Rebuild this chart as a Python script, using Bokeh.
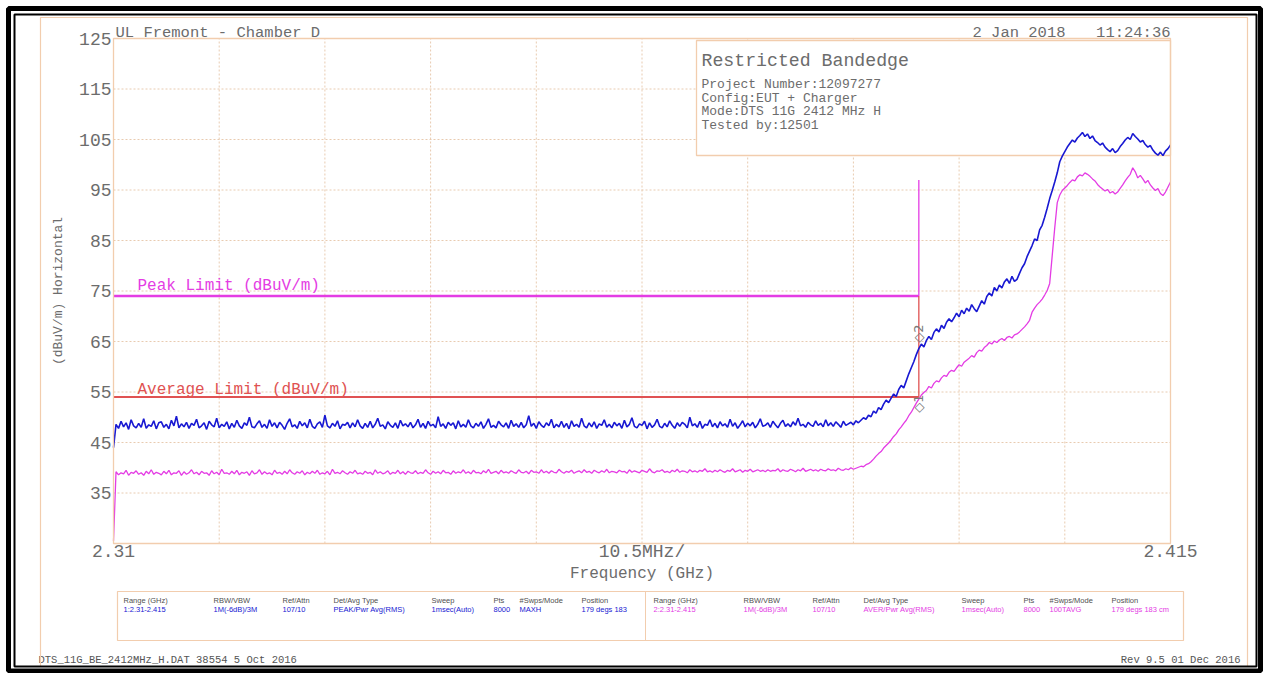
import numpy as np
from bokeh.plotting import figure
from bokeh.models import Range1d, FixedTicker, Label, BoxAnnotation, LinearAxis
from bokeh.core.properties import value
from bokeh.embed import file_html
from bokeh.resources import INLINE

# ---------------- data ----------------
F_START, F_STOP = 2.31, 2.415          # GHz sweep range
Y_MIN, Y_MAX = 25, 125                 # dBuV/m

PEAK_TRACE = [
    44.0, 48.6, 47.8, 49.2, 48.1, 48.9, 47.6, 49.5, 48.3, 47.9, 48.8, 48.0, 49.7, 47.8, 48.5, 48.2, 49.3, 47.7, 48.9, 49.1,
    48.0, 48.6, 47.7, 49.4, 48.3, 50.2, 47.9, 48.7, 48.1, 49.0, 47.8, 48.8, 48.4, 49.6, 47.9, 48.3, 48.9, 47.6, 49.2, 48.5,
    48.1, 49.8, 47.9, 48.6, 48.2, 49.1, 47.7, 48.8, 48.0, 49.4, 48.3, 47.8, 48.9, 48.4, 50.0, 48.1, 47.9, 48.7, 49.3, 48.0,
    48.6, 47.8, 49.5, 48.2, 48.9, 47.9, 49.0, 48.4, 47.6, 48.8, 49.7, 48.1, 48.5, 47.8, 49.2, 48.3, 48.9, 47.9, 49.6, 48.2,
    47.8, 48.7, 49.1, 48.0, 50.4, 48.3, 47.9, 48.8, 48.2, 49.3, 47.7, 48.6, 48.4, 49.0, 47.9, 48.9, 48.1, 49.5, 48.3, 47.8,
    48.8, 48.0, 49.2, 47.9, 48.6, 49.8, 48.2, 48.5, 47.7, 49.1, 48.4, 48.0, 48.9, 47.8, 49.4, 48.3, 48.7, 48.1, 49.0, 47.9,
    48.5, 49.6, 48.0, 48.8, 47.8, 49.2, 48.3, 48.6, 47.9, 50.1, 48.2, 48.7, 47.8, 49.0, 48.4, 48.9, 47.7, 49.3, 48.1, 48.6,
    48.0, 49.5, 48.3, 47.9, 48.8, 48.2, 49.1, 47.8, 48.6, 49.7, 48.0, 48.4, 47.9, 49.2, 48.5, 48.1, 48.9, 47.8, 49.4, 48.2,
    48.7, 48.0, 49.0, 47.9, 48.5, 50.3, 48.2, 48.8, 47.8, 49.1, 48.4, 48.0, 48.9, 48.3, 49.6, 47.9, 48.6, 48.1, 49.2, 48.0,
    48.8, 47.7, 49.3, 48.2, 48.6, 48.0, 49.8, 48.3, 47.9, 48.9, 48.1, 49.1, 47.8, 48.7, 48.4, 49.5, 48.0, 48.6, 47.9, 49.0,
    48.3, 48.8, 47.8, 49.4, 48.1, 48.6, 49.9, 48.2, 47.9, 48.7, 48.4, 49.2, 47.7, 48.9, 48.0, 48.5, 49.6, 48.2, 47.9, 48.8,
    48.1, 49.3, 48.4, 47.8, 48.9, 48.2, 49.0, 48.6, 47.9, 50.0, 48.3, 48.7, 48.0, 49.2, 47.8, 48.6, 48.4, 49.5, 48.1, 48.8,
    47.9, 49.1, 48.3, 48.7, 48.0, 49.6, 48.2, 48.9, 47.8, 48.5, 49.3, 48.1, 48.8, 48.3, 49.0, 47.9, 48.6, 49.7, 48.2, 48.4,
    48.9, 48.0, 49.2, 48.5, 47.9, 48.8, 49.4, 48.2, 48.7, 48.1, 49.1, 48.4, 49.8, 48.3, 48.6, 48.0, 49.0, 48.5, 48.2, 49.3,
    48.4, 48.8, 48.1, 49.5, 48.3, 48.9, 48.2, 49.1, 48.6, 48.0, 49.2, 48.4, 48.7, 49.0, 48.5, 49.3, 48.9, 49.4, 49.9, 49.6,
    50.4, 50.1, 51.2, 50.8, 51.9, 51.5, 52.6, 53.4, 52.9, 53.8, 54.6, 54.1, 55.5, 56.3, 55.8, 57.2, 58.6, 59.8, 61.0, 62.4,
    63.6, 64.5, 63.9, 65.2, 66.0, 65.4, 66.8, 67.5, 66.9, 68.2, 67.6, 68.8, 69.5, 68.9, 69.7, 70.6, 69.9, 71.2, 70.5, 71.6,
    71.0, 72.3, 71.5, 70.9, 72.0, 73.1, 72.4, 73.9, 74.6, 74.0, 75.7, 75.0, 76.2, 75.6, 76.8, 77.4, 76.5, 77.9, 76.9, 77.3,
    78.5, 79.6, 80.4, 81.8, 82.9, 84.0, 85.3, 85.0, 87.1, 88.0, 89.6, 91.4, 93.3, 94.9, 96.6, 98.4, 100.6, 101.7, 102.6, 103.5,
    104.2, 104.9, 104.5, 105.3, 105.8, 106.4, 105.6, 106.1, 105.2, 105.7, 104.8, 104.4, 103.9, 104.3, 103.5, 103.0, 102.6, 103.2, 102.4, 102.8,
    103.6, 104.2, 104.9, 105.4, 105.0, 106.2, 105.6, 105.1, 104.5, 104.8, 104.0, 103.5, 103.8, 102.9, 102.3, 101.9, 102.5, 101.8, 102.7, 103.2,
    103.9,
]

AVG_TRACE = [
    25.5, 39.2, 38.6, 39.0, 38.8, 39.5, 38.5, 39.1, 38.9, 39.4, 38.7, 39.0, 38.5, 39.3, 38.8, 39.6, 38.7, 39.1, 38.9, 38.6,
    39.3, 38.8, 39.5, 38.6, 39.0, 38.9, 39.4, 38.5, 39.2, 38.7, 39.0, 39.6, 38.8, 39.1, 38.6, 39.3, 38.9, 39.0, 38.5, 39.4,
    38.8, 39.1, 38.6, 39.7, 38.9, 39.0, 38.7, 39.3, 38.8, 39.5, 38.6, 39.1, 38.9, 39.2, 38.5, 39.4, 38.8, 39.0, 39.6, 38.7,
    39.2, 38.8, 39.0, 38.6, 39.5, 38.9, 39.1, 38.7, 39.3, 38.8, 39.6, 39.0, 38.7, 39.2, 38.9, 39.4, 38.6, 39.1, 38.8, 39.3,
    38.9, 39.5, 38.7, 39.0, 38.8, 39.3, 38.6, 39.7, 38.9, 39.1, 38.8, 39.4, 39.0, 38.7, 39.2, 38.9, 39.5, 38.8, 39.0, 38.7,
    39.3, 38.9, 39.1, 38.6, 39.6, 38.9, 39.2, 38.8, 39.0, 39.4, 38.7, 39.1, 38.9, 39.5, 38.8, 39.2, 38.7, 39.3, 39.0, 38.9,
    39.4, 38.8, 39.1, 38.9, 39.6, 39.0, 38.7, 39.3, 38.9, 39.2, 38.8, 39.5, 39.0, 39.1, 38.7, 39.4, 38.9, 39.2, 39.0, 39.6,
    38.9, 39.2, 38.8, 39.5, 39.0, 39.1, 38.8, 39.4, 39.0, 39.7, 38.9, 39.1, 39.3, 38.8, 39.5, 39.0, 39.2, 38.9, 39.4, 39.1,
    38.9, 39.6, 39.1, 39.0, 39.3, 38.8, 39.5, 39.1, 39.2, 38.9, 39.6, 39.0, 39.3, 38.9, 39.4, 39.1, 39.0, 39.7, 39.2, 38.9,
    39.3, 39.1, 39.5, 38.9, 39.2, 39.4, 39.0, 39.6, 39.1, 39.3, 38.9, 39.5, 39.2, 39.0, 39.4, 39.1, 39.7, 39.0, 39.3, 39.2,
    39.0, 39.5, 39.2, 39.3, 38.9, 39.6, 39.1, 39.4, 39.2, 39.0, 39.5, 39.3, 39.1, 39.8, 39.2, 39.0, 39.4, 39.3, 39.6, 39.1,
    39.3, 39.0, 39.5, 39.2, 39.7, 39.1, 39.4, 39.3, 39.0, 39.6, 39.2, 39.4, 39.1, 39.5, 39.3, 39.8, 39.2, 39.4, 39.1, 39.5,
    39.2, 39.6, 39.3, 39.1, 39.5, 39.3, 39.8, 39.2, 39.4, 39.6, 39.1, 39.5, 39.3, 39.7, 39.2, 39.4, 39.6, 39.3, 39.5, 39.2,
    39.6, 39.3, 39.5, 39.4, 39.8, 39.2, 39.6, 39.4, 39.3, 39.7, 39.5, 39.2, 39.6, 39.4, 39.9, 39.3, 39.5, 39.7, 39.4, 39.6,
    39.3, 39.7, 39.5, 39.4, 39.8, 39.5, 39.6, 39.4, 39.9, 39.6, 39.5, 39.8, 39.6, 40.0, 39.7, 39.9, 40.1, 40.3, 40.2, 40.6,
    40.8, 41.2, 41.7, 42.3, 42.8, 43.2, 43.9, 44.4, 44.9, 45.5, 46.2, 46.7, 47.5, 48.1, 48.8, 49.4, 50.3, 51.0, 51.9, 52.8,
    53.6, 54.4, 54.9, 55.3, 56.1, 55.8, 56.7, 57.2, 57.0, 57.8, 58.3, 58.1, 58.9, 59.3, 59.1, 59.8, 60.4, 60.1, 60.9, 61.3,
    61.7, 62.2, 61.9, 62.8, 63.3, 63.1, 63.8, 64.2, 64.8, 64.5, 65.1, 64.8, 65.3, 65.6, 65.2, 65.8, 66.0, 65.7, 66.3, 66.5,
    66.9, 67.4, 67.9, 68.5, 69.2, 70.8, 71.6, 72.3, 72.8, 73.4, 74.2, 75.1, 76.5, 82.0, 87.5, 92.5, 94.0, 94.9, 95.4, 95.9,
    96.5, 97.0, 96.8, 97.6, 98.0, 97.8, 98.4, 98.1, 97.7, 97.2, 96.8, 96.1, 95.6, 95.2, 94.8, 95.1, 94.4, 94.7, 94.2, 94.6,
    95.3, 96.0, 96.8, 97.5, 98.1, 99.4, 98.6, 97.4, 97.9, 97.2, 96.4, 96.9, 96.0, 95.4, 94.9, 95.3, 94.3, 93.9, 94.6, 95.6,
    96.6,
]
assert len(PEAK_TRACE) == len(AVG_TRACE) == 421

LIMIT_F = [2.31, 2.39]
PEAK_LIMIT = [74, 74]
AVG_LIMIT = [54, 54]
EDGE_F = [2.39, 2.39]
EDGE_PEAK = [74, 97]
EDGE_AVG = [54, 74]
MARKER_F = [2.39, 2.39]
MARKER_DB = [53.9, 63.8]
MARKER_TEXT = ["\u25C71", "\u25C72"]

Y_TICKS = [35, 45, 55, 65, 75, 85, 95, 105, 115, 125]
Y_GRID = [35, 45, 55, 65, 75, 85, 95, 105, 115]
X_TICKS = [2.31, 2.3625, 2.415]
X_TICK_LABELS = ["2.31", "10.5MHz/", "2.415"]
X_GRID = [2.3205, 2.331, 2.3415, 2.352, 2.3625, 2.373, 2.3835, 2.394, 2.4045]

TITLE = "UL Fremont - Chamber D"
DATE = "2 Jan 2018"
TIME = "11:24:36"
INFO_TITLE = "Restricted Bandedge"
INFO_LINES = ["Project Number:12097277", "Config:EUT + Charger",
              "Mode:DTS 11G 2412 MHz H", "Tested by:12501"]
TABLE_HEAD = ["Range (GHz)", "RBW/VBW", "Ref/Attn", "Det/Avg Type",
              "Sweep", "Pts", "#Swps/Mode", "Position"]
TABLE_ROW1 = ["1:2.31-2.415", "1M(-6dB)/3M", "107/10", "PEAK/Pwr Avg(RMS)",
              "1msec(Auto)", "8000", "MAXH", "179 degs 183"]
TABLE_ROW2 = ["2:2.31-2.415", "1M(-6dB)/3M", "107/10", "AVER/Pwr Avg(RMS)",
              "1msec(Auto)", "8000", "100TAVG", "179 degs 183 cm"]
FOOT_LEFT = "DTS_11G_BE_2412MHz_H.DAT 38554  5 Oct 2016"
FOOT_RIGHT = "Rev 9.5 01 Dec 2016"

# ---------------- layout (canvas pixels, y from top) ----------------
W, H = 1263, 673
PX_L, PX_R, PY_T, PY_B = 113, 1170, 38, 543    # plot area
MONO = "Liberation Mono"
GREY = "#6c6c6c"
TAN = "#f2cdae"
GRID_C = "#e8cbb0"
BLUE = "#1818d2"
MAGENTA = "#e43ce4"
RED = "#e05252"

S_X = (F_STOP - F_START) / (PX_R - PX_L)
S_Y = (Y_MAX - Y_MIN) / (PY_B - PY_T)


def fx(px):
    return F_START + (px - PX_L) * S_X


def fy(py):
    return Y_MAX - (py - PY_T) * S_Y


freq = np.linspace(F_START, F_STOP, len(PEAK_TRACE))

p = figure(width=W, height=H, output_backend="svg", toolbar_location=None,
           x_range=Range1d(fx(0), fx(W)), y_range=Range1d(fy(H), fy(0)),
           x_axis_type=None, y_axis_type=None,
           min_border=0, min_border_left=0, min_border_right=0,
           min_border_top=0, min_border_bottom=0)
p.background_fill_color = "white"
p.border_fill_color = "white"
p.outline_line_color = None

# axes drawn at the plot-area edges
yax = LinearAxis(fixed_location=F_START, bounds=(Y_MIN, Y_MAX),
                 ticker=FixedTicker(ticks=Y_TICKS), axis_label="(dBuV/m) Horizontal")
xax = LinearAxis(fixed_location=Y_MIN, bounds=(F_START, F_STOP),
                 ticker=FixedTicker(ticks=X_TICKS), axis_label="Frequency (GHz)")
xax.major_label_overrides = {t: s for t, s in zip(X_TICKS, X_TICK_LABELS)}
for ax in (xax, yax):
    ax.axis_line_color = None
    ax.major_tick_line_color = None
    ax.minor_tick_line_color = None
    ax.major_tick_out = 0
    ax.major_tick_in = 0
    ax.minor_tick_out = 0
    ax.major_label_text_font = MONO
    ax.major_label_text_color = GREY
    ax.major_label_text_font_size = "18px"
    ax.axis_label_text_font = MONO
    ax.axis_label_text_font_style = "normal"
    ax.axis_label_text_color = GREY
yax.major_label_standoff = 2
yax.axis_label_text_font_size = "13px"
yax.axis_label_standoff = 10
xax.major_label_standoff = -2
xax.axis_label_text_font_size = "16px"
xax.axis_label_standoff = 0
p.add_layout(yax, "left")
p.add_layout(xax, "below")

# grid lines (dotted, inside plot area only)
p.segment(x0=X_GRID, x1=X_GRID, y0=[Y_MIN] * len(X_GRID), y1=[Y_MAX] * len(X_GRID),
          line_color=GRID_C, line_dash="2 2", line_width=1)
p.segment(x0=[F_START] * len(Y_GRID), x1=[F_STOP] * len(Y_GRID), y0=Y_GRID, y1=Y_GRID,
          line_color=GRID_C, line_dash="2 2", line_width=1)

# info box (white, covers grid, under traces)
p.quad(left=fx(696), right=F_STOP, bottom=fy(155), top=fy(40),
       fill_color="white", line_color=TAN, line_width=1.3)

# limits
p.line(LIMIT_F, PEAK_LIMIT, line_color=MAGENTA, line_width=2.4)
p.line(LIMIT_F, AVG_LIMIT, line_color=RED, line_width=2)
p.line(EDGE_F, EDGE_PEAK, line_color=MAGENTA, line_width=1.3)
p.line(EDGE_F, EDGE_AVG, line_color=RED, line_width=1.3)

# traces
p.line(freq, AVG_TRACE, line_color=MAGENTA, line_width=1.3)
p.line(freq, PEAK_TRACE, line_color=BLUE, line_width=1.6)

# markers
p.text(MARKER_F, MARKER_DB, text=MARKER_TEXT, angle=np.pi / 2,
       y_offset=[6, -14], text_align="center", text_baseline="middle",
       text_font=value("DejaVu Sans"), text_font_size="13px", text_color="#7a7a7a")

# limit labels
p.add_layout(Label(x=fx(137), y=fy(285), text="Peak Limit (dBuV/m)",
                   text_font=MONO, text_font_size="16px", text_color=MAGENTA,
                   text_baseline="alphabetic"))
p.add_layout(Label(x=fx(137), y=fy(389), text="Average Limit (dBuV/m)",
                   text_font=MONO, text_font_size="16px", text_color=RED,
                   text_baseline="alphabetic"))


def clabel(x, y, text, size, color=GREY, align="left", font=MONO):
    p.add_layout(Label(x=x, y=y, x_units="canvas", y_units="canvas",
                       text=text, text_font=font, text_font_size=size,
                       text_color=color, text_align=align,
                       text_baseline="alphabetic"))


# header texts
clabel(115, 32, TITLE, "15.5px")
clabel(972, 32, DATE, "15.5px")
clabel(1170, 32, TIME, "15.5px", align="right")

# info box text
clabel(701, 60, INFO_TITLE, "18.2px")
for i, line in enumerate(INFO_LINES):
    clabel(701, 84 + 13.6 * i, line, "13px")

# table
HEAD_X = [123, 213, 282, 333, 431, 493, 519, 581]
HALF = 530
for hx, h, v1, v2 in zip(HEAD_X, TABLE_HEAD, TABLE_ROW1, TABLE_ROW2):
    clabel(hx, 600, h, "7.5px", color="#505050", font="Liberation Sans")
    clabel(hx, 609, v1, "7.5px", color=BLUE, font="Liberation Sans")
    clabel(hx + HALF, 600, h, "7.5px", color="#505050", font="Liberation Sans")
    clabel(hx + HALF, 609, v2, "7.5px", color=MAGENTA, font="Liberation Sans")

# footer
clabel(38, 659, FOOT_LEFT, "10.5px", color="#555555")
clabel(1240, 659, FOOT_RIGHT, "10.5px", color="#555555", align="right")


def cbox(l, r, t, b, color, width, fill=None):
    p.add_layout(BoxAnnotation(left=l, right=r, top=t, bottom=b,
                               left_units="canvas", right_units="canvas",
                               top_units="canvas", bottom_units="canvas",
                               line_color=color, line_width=width, line_alpha=1,
                               fill_color=fill if fill else "white",
                               fill_alpha=1 if fill else 0))


cbox(PX_L, PX_R, PY_T, PY_B, TAN, 1.3)        # plot area outline
cbox(117, 1183, 591, 640, TAN, 1.2)          # table box
cbox(644.5, 645.5, 591, 640, None, 0, fill=TAN)   # table divider
cbox(40, 1247, 17, 666, TAN, 1.2)            # chart border
cbox(8, 1260, 8, 670.5, "black", 5)          # outer black frame
cbox(14, 1256, 14, 666, "black", 2)          # inner black frame

open("out.html", "w").write(file_html(p, INLINE))
